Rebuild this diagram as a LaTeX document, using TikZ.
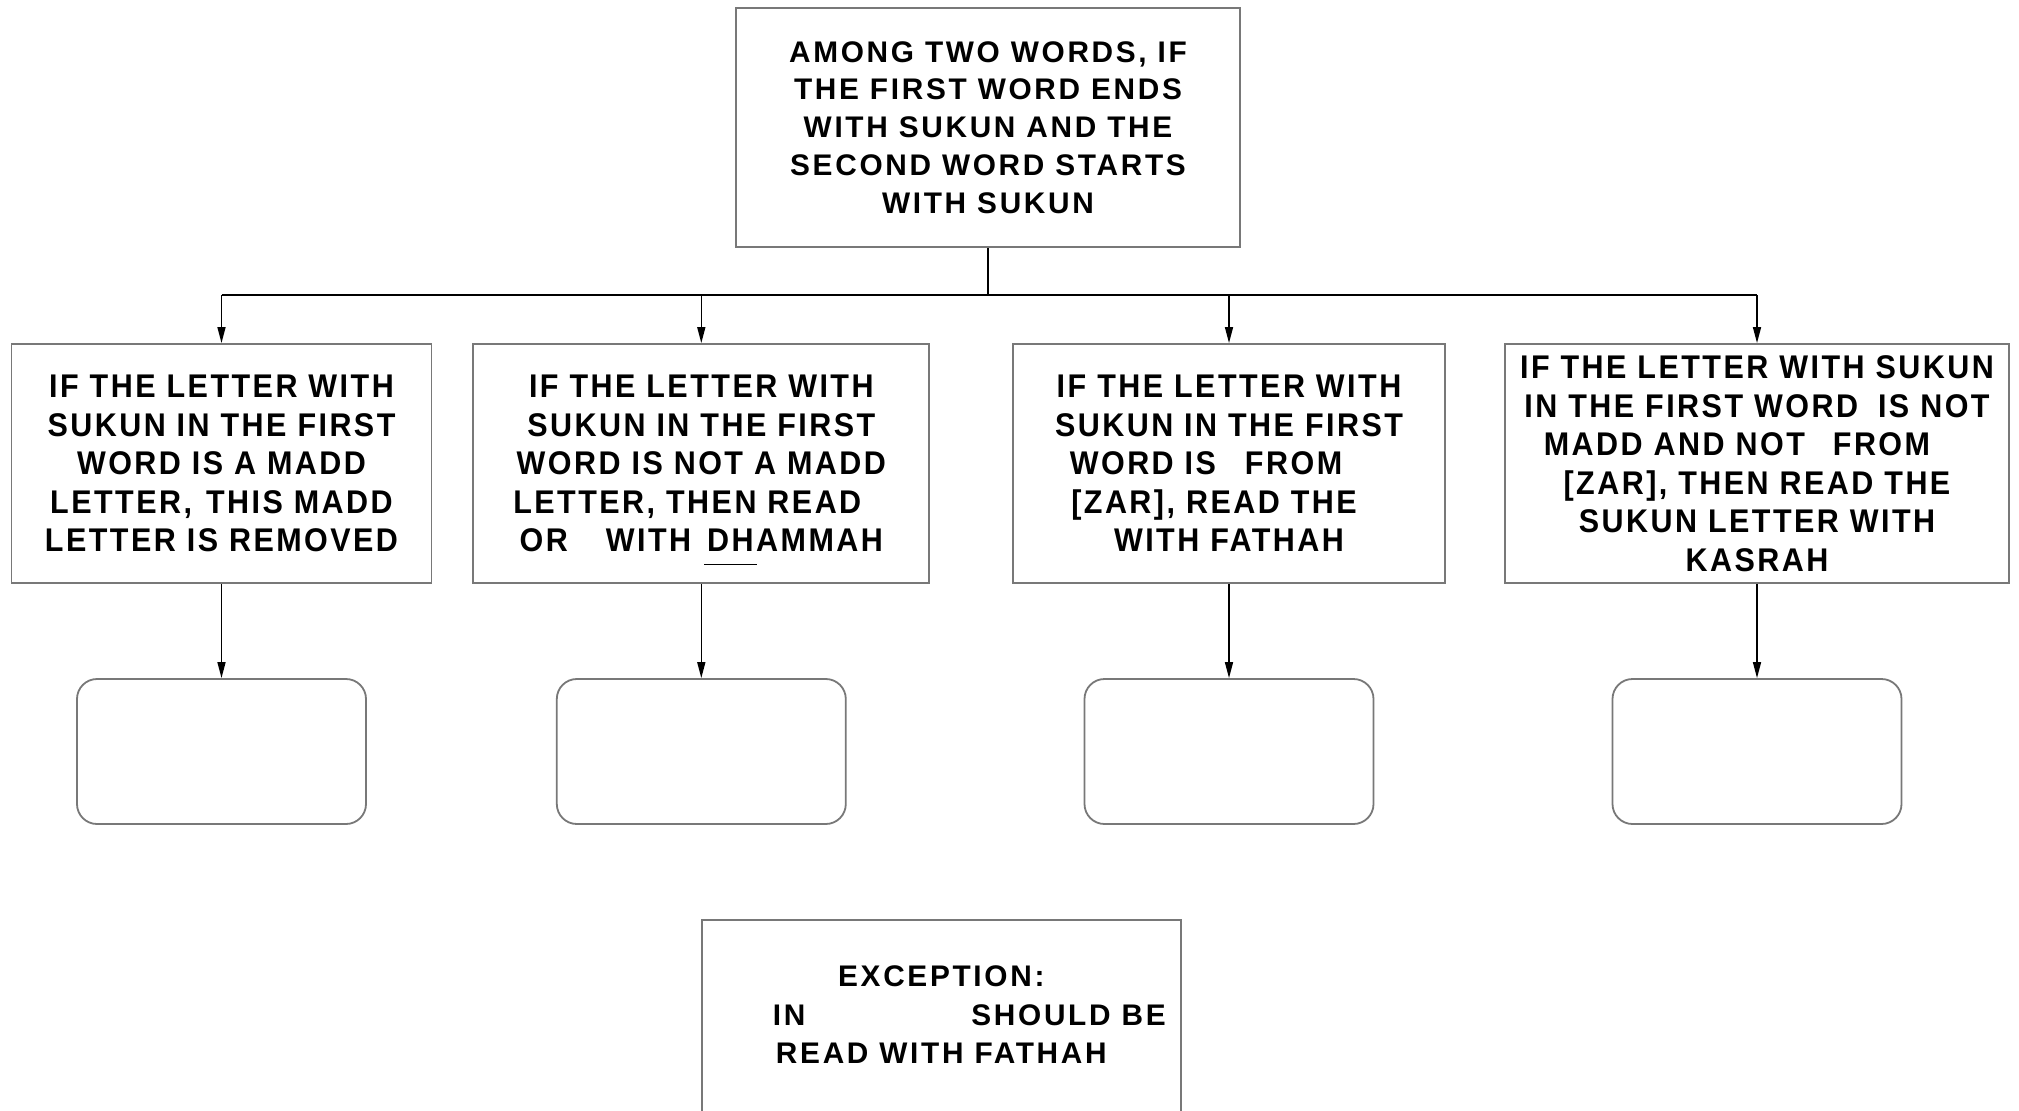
\documentclass[tikz,border=0pt]{standalone}
\usepackage{fontspec}
\setmainfont{Liberation Sans}
\newfontfamily\topfont{Liberation Sans}[LetterSpace=9]
\newfontfamily\lowfont{Liberation Sans}[FakeStretch=0.93,LetterSpace=7.5]
\usetikzlibrary{arrows.meta}
\definecolor{bordergray}{RGB}{120,120,120}
\begin{document}
\begin{tikzpicture}[x=1pt,y=-1pt,
  frame/.style={draw=bordergray, line width=1.8pt},
  topbox/.style={frame, align=center, inner sep=0pt,
    font=\topfont\bfseries\fontsize{29.8}{37.8}\selectfont},
  lowbox/.style={frame, align=center, inner sep=0pt, minimum height=239pt,
    font=\lowfont\bfseries\fontsize{32.8}{38.5}\selectfont},
  exctext/.style={align=center, inner sep=0pt,
    font=\topfont\bfseries\fontsize{29.8}{38.5}\selectfont},
  endbox/.style={frame, rounded corners=20pt, minimum width=289pt, minimum height=145pt},
  conn/.style={line width=1.5pt, black},
  arr/.style={conn, -{Triangle[length=16pt,width=8pt]}}
]
\useasboundingbox (0,0) rectangle (2019,1111);
\fill[white] (0,0) rectangle (2019,1111);
\clip (0,0) rectangle (2019,1111);

\node[topbox, minimum width=503.5pt, minimum height=239.5pt] (top) at (988,127.5)
  {AMONG TWO WORDS, IF\\THE FIRST WORD ENDS\\WITH SUKUN AND THE\\SECOND WORD STARTS\\WITH SUKUN};

\node[lowbox, minimum width=420pt] (b1) at (221.5,463.5)
  {IF THE LETTER WITH\\SUKUN IN THE FIRST\\WORD IS A MADD\\LETTER,\hspace{14pt}THIS MADD\\LETTER IS REMOVED};
\node[lowbox, minimum width=456pt] (b2) at (701.3,463.5)
  {IF THE LETTER WITH\\SUKUN IN THE FIRST\\WORD IS NOT A MADD\\LETTER, THEN READ\rule{28pt}{0pt}\\OR\hspace{38pt}WITH\hspace{16pt}\makebox[0pt][l]{\smash{\hspace{-3pt}\rule[-13.5pt]{53pt}{1.6pt}}}DHAMMAH};
\node[lowbox, minimum width=432pt] (b3) at (1229,463.5)
  {IF THE LETTER WITH\\SUKUN IN THE FIRST\\WORD IS\hspace{29pt}FROM\rule{46pt}{0pt}\\{[}ZAR{]}, READ THE\rule{30pt}{0pt}\\WITH FATHAH};
\node[lowbox, minimum width=504pt] (b4) at (1757,463.5)
  {IF THE LETTER WITH SUKUN\\IN THE FIRST WORD\hspace{20pt}IS NOT\\MADD AND NOT\hspace{28pt}FROM\rule{40pt}{0pt}\\{[}ZAR{]}, THEN READ THE\\SUKUN LETTER WITH\\KASRAH};

\node[endbox] (e1) at (221.5,751.5) {};
\node[endbox] (e2) at (701.3,751.5) {};
\node[endbox] (e3) at (1229,751.5) {};
\node[endbox] (e4) at (1757,751.5) {};

\coordinate (hub) at (988,295);
\draw[conn] (top.south) -- (hub);
\draw[conn] (b1.north |- hub) -- (b4.north |- hub);
\foreach \b in {b1,b2,b3,b4} {
  \draw[arr] (\b.north |- hub) -- (\b.north);
}
\draw[arr] (b1) -- (e1);
\draw[arr] (b2) -- (e2);
\draw[arr] (b3) -- (e3);
\draw[arr] (b4) -- (e4);

\node[exctext] (exc) at (941.3,1015)
  {EXCEPTION:\\\rule{56pt}{0pt}IN\hspace{166pt}SHOULD BE\\READ WITH FATHAH};
\draw[frame] (701.7,920) rectangle (1181,1200);
\end{tikzpicture}
\end{document}
